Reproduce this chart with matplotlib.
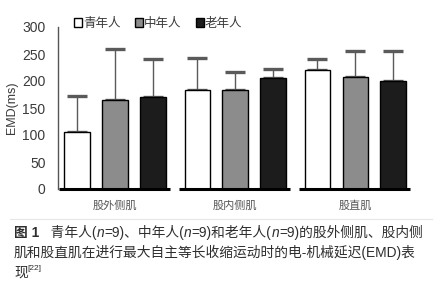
import matplotlib
matplotlib.use("Agg")
import matplotlib.pyplot as plt
import numpy as np

plt.rcParams["font.family"] = ["Liberation Sans", "Noto Sans CJK SC"]

muscles = ["股外侧肌", "股内侧肌", "股直肌"]
groups = ["青年人", "中年人", "老年人"]
# mean EMD (ms) per age group, one value per muscle
young = [105, 183, 220]
middle = [165, 184, 208]
old = [170, 205, 200]
# top of the (upper-only) error bar
young_top = [172, 242, 240]
middle_top = [260, 217, 255]
old_top = [240, 223, 255]

yticks = [0, 50, 100, 150, 200, 250, 300]

BAR_COLORS = ["white", "#8c8c8c", "#1c1c1c"]
TEXT = "#3a3a3a"

W, H = 444, 300
fig = plt.figure(figsize=(W / 100, H / 100), dpi=100)
ax = fig.add_axes([58 / W, (H - 189) / H, (420 - 58) / W, (189 - 27) / H])

x = np.arange(len(muscles))
offsets = [-0.316, 0, 0.316]
width = 0.21
series = [(young, young_top), (middle, middle_top), (old, old_top)]
handles = []
for (vals, tops), off, col, name in zip(series, offsets, BAR_COLORS, groups):
    b = ax.bar(x + off, vals, width, color=col, edgecolor="black", linewidth=1.0,
               label=name, zorder=2)
    handles.append(b)
    err = np.array(tops) - np.array(vals)
    eb = ax.errorbar(x + off, vals, yerr=[np.zeros_like(err), err], fmt="none",
                     ecolor="#5a5a5a", elinewidth=1.0, capsize=7, capthick=2.4,
                     zorder=1)
    for cap in eb[1]:
        cap.set_color("#222222")

for xi in x:
    ax.plot([xi - 0.47, xi + 0.46], [0, 0], color="black", lw=2.2,
            solid_capstyle="butt", clip_on=False, zorder=3)

ax.set_xlim(-0.475, 2.54)
ax.set_ylim(0, 300)
ax.set_yticks(yticks)
ax.tick_params(axis="y", length=0, pad=9, labelsize=10, labelcolor=TEXT)
ax.set_xticks([])
for s in ["top", "right", "bottom"]:
    ax.spines[s].set_visible(False)
ax.spines["left"].set_color("#555555")
ax.spines["left"].set_linewidth(1.0)
ax.set_ylabel("EMD(ms)", fontsize=9, color=TEXT, labelpad=3)

for xi, name in zip(x, muscles):
    ax.text(xi, -30, name, ha="center", va="center", fontsize=8, color="#555555",
            clip_on=False)

fig.legend(handles=handles, labels=groups, loc="center left",
           bbox_to_anchor=(68 / W, 1 - 24 / H), ncol=3, frameon=False,
           fontsize=9, handlelength=0.65, handleheight=0.75, handletextpad=0.1,
           columnspacing=1.1, labelcolor=TEXT, borderpad=0)

# faint separator between chart and caption
fig.add_artist(plt.Line2D([10 / W, 432 / W], [1 - 219 / H] * 2, color="#e6e6e6", lw=0.8))


def chain(parts, x0, y0, size=10):
    t = fig.text(x0, y0, parts[0][0], fontsize=size, color="#2e2e2e",
                 weight=parts[0][1], va="bottom")
    for s, kind in parts[1:]:
        kw = {}
        if kind == "italic":
            kw["style"] = "italic"
            weight = "normal"
        else:
            weight = kind
        t = fig.add_artist(matplotlib.text.Annotation(
            s, xy=(1, 0), xycoords=t, va="bottom", ha="left", fontsize=size,
            color="#2e2e2e", weight=weight, **kw))
    return t


line1 = [("图 1", "bold"), ("   青年人(", "normal"), ("n", "italic"),
         ("=9)、中年人(", "normal"), ("n", "italic"), ("=9)和老年人(", "normal"),
         ("n", "italic"), ("=9)的股外侧肌、股内侧", "normal")]
chain(line1, 14 / W, 1 - 240 / H, size=9.9)
fig.text(14 / W, 1 - 260 / H, "肌和股直肌在进行最大自主等长收缩运动时的电-机械延迟(EMD)表",
         fontsize=9.9, color="#2e2e2e", va="bottom")
t = fig.text(14 / W, 1 - 280 / H, "现", fontsize=9.9, color="#2e2e2e", va="bottom")
fig.add_artist(matplotlib.text.Annotation("[22]", xy=(1, 0.55), xycoords=t,
                                          va="bottom", ha="left", fontsize=6,
                                          color="#2e2e2e"))

fig.savefig("out.png", dpi=100)
